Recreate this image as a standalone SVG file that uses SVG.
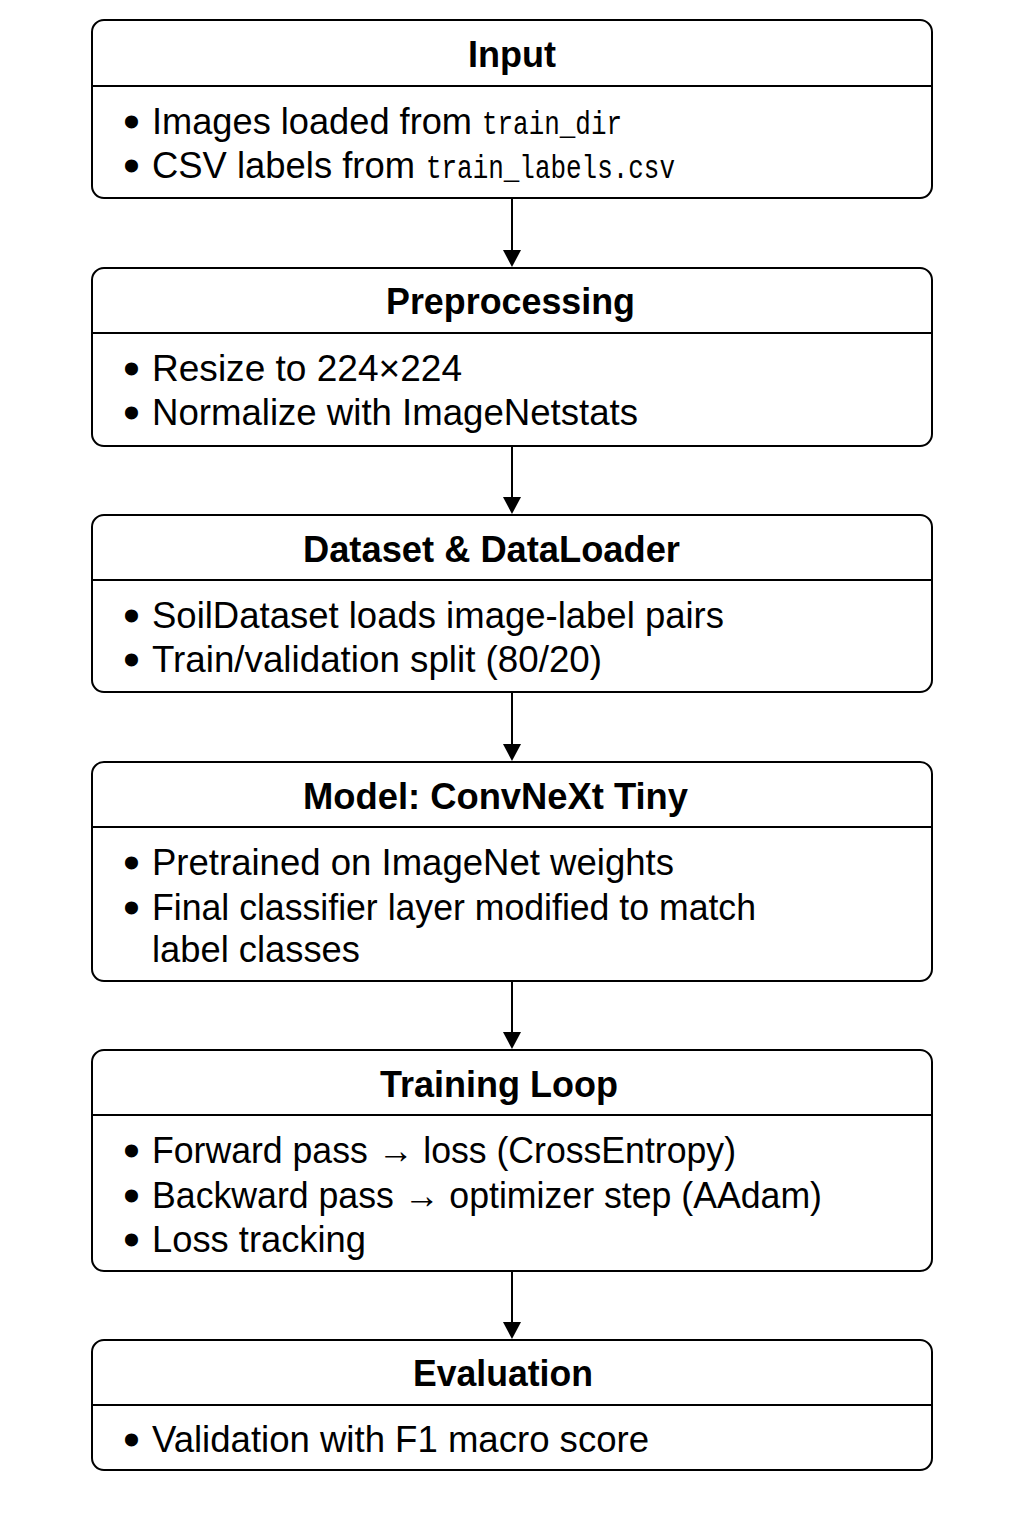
<svg xmlns="http://www.w3.org/2000/svg" width="1024" height="1536" viewBox="0 0 1024 1536">
<style>
.box{fill:#fff;stroke:#000;stroke-width:2}
.div{stroke:#000;stroke-width:1.8}
.t{font-family:"Liberation Sans",Arial,sans-serif;font-weight:bold;font-size:36px;fill:#000}
.b{font-family:"Liberation Sans",Arial,sans-serif;font-size:37px;fill:#000}
.d{font-family:"Liberation Sans",Arial,sans-serif;font-size:37px;fill:#000;stroke:#000;stroke-width:3}
.m{font-family:"Liberation Mono","DejaVu Sans Mono",monospace;font-size:33px;fill:#000}
.c{stroke:#000;stroke-width:2;fill:none}
.ah{fill:#000}
</style>
<defs>
<path id="head" d="M-9,-17 L9,-17 L0,0 Z"/>
</defs>
<rect width="1024" height="1536" fill="#fff"/>
<g id="connectors">
<line class="c" x1="512" y1="198" x2="512" y2="252"/>
<use href="#head" class="ah" x="512" y="267"/>
<line class="c" x1="512" y1="446" x2="512" y2="499"/>
<use href="#head" class="ah" x="512" y="514"/>
<line class="c" x1="512" y1="692" x2="512" y2="746"/>
<use href="#head" class="ah" x="512" y="761"/>
<line class="c" x1="512" y1="981" x2="512" y2="1034"/>
<use href="#head" class="ah" x="512" y="1049"/>
<line class="c" x1="512" y1="1271" x2="512" y2="1324"/>
<use href="#head" class="ah" x="512" y="1339"/>
</g>
<g id="input">
<rect class="box" x="92" y="20" width="840" height="178" rx="12"/>
<line class="div" x1="92" y1="86" x2="932" y2="86"/>
<text class="t" x="468" y="67" textLength="88" lengthAdjust="spacingAndGlyphs">Input</text>
<text class="d" x="125" y="134">•</text>
<text class="b" x="152" y="134" textLength="320" lengthAdjust="spacingAndGlyphs">Images loaded from</text>
<text class="m" x="482" y="134" textLength="140" lengthAdjust="spacingAndGlyphs">train_dir</text>
<text class="d" x="125" y="178">•</text>
<text class="b" x="152" y="178" textLength="263" lengthAdjust="spacingAndGlyphs">CSV labels from</text>
<text class="m" x="426" y="178" textLength="249" lengthAdjust="spacingAndGlyphs">train_labels.csv</text>
</g>
<g id="preprocessing">
<rect class="box" x="92" y="268" width="840" height="178" rx="12"/>
<line class="div" x1="92" y1="333" x2="932" y2="333"/>
<text class="t" x="386" y="314" textLength="249" lengthAdjust="spacingAndGlyphs">Preprocessing</text>
<text class="d" x="125" y="381">•</text>
<text class="b" x="152" y="381" textLength="310" lengthAdjust="spacingAndGlyphs">Resize to 224×224</text>
<text class="d" x="125" y="425">•</text>
<text class="b" x="152" y="425" textLength="486" lengthAdjust="spacingAndGlyphs">Normalize with ImageNetstats</text>
</g>
<g id="dataset">
<rect class="box" x="92" y="515" width="840" height="177" rx="12"/>
<line class="div" x1="92" y1="580" x2="932" y2="580"/>
<text class="t" x="303" y="562" textLength="377" lengthAdjust="spacingAndGlyphs">Dataset &amp; DataLoader</text>
<text class="d" x="125" y="628">•</text>
<text class="b" x="152" y="628" textLength="572" lengthAdjust="spacingAndGlyphs">SoilDataset loads image-label pairs</text>
<text class="d" x="125" y="672">•</text>
<text class="b" x="152" y="672" textLength="450" lengthAdjust="spacingAndGlyphs">Train/validation split (80/20)</text>
</g>
<g id="model">
<rect class="box" x="92" y="762" width="840" height="219" rx="12"/>
<line class="div" x1="92" y1="827" x2="932" y2="827"/>
<text class="t" x="303" y="809" textLength="385" lengthAdjust="spacingAndGlyphs">Model: ConvNeXt Tiny</text>
<text class="d" x="125" y="875">•</text>
<text class="b" x="152" y="875" textLength="522" lengthAdjust="spacingAndGlyphs">Pretrained on ImageNet weights</text>
<text class="d" x="125" y="920">•</text>
<text class="b" x="152" y="920" textLength="604" lengthAdjust="spacingAndGlyphs">Final classifier layer modified to match</text>
<text class="b" x="152" y="962" textLength="208" lengthAdjust="spacingAndGlyphs">label classes</text>
</g>
<g id="training">
<rect class="box" x="92" y="1050" width="840" height="221" rx="12"/>
<line class="div" x1="92" y1="1115" x2="932" y2="1115"/>
<text class="t" x="380" y="1097" textLength="238" lengthAdjust="spacingAndGlyphs">Training Loop</text>
<text class="d" x="125" y="1163">•</text>
<text class="b" x="152" y="1163" textLength="584" lengthAdjust="spacingAndGlyphs">Forward pass → loss (CrossEntropy)</text>
<text class="d" x="125" y="1208">•</text>
<text class="b" x="152" y="1208" textLength="670" lengthAdjust="spacingAndGlyphs">Backward pass → optimizer step (AAdam)</text>
<text class="d" x="125" y="1252">•</text>
<text class="b" x="152" y="1252" textLength="214" lengthAdjust="spacingAndGlyphs">Loss tracking</text>
</g>
<g id="evaluation">
<rect class="box" x="92" y="1340" width="840" height="130" rx="12"/>
<line class="div" x1="92" y1="1405" x2="932" y2="1405"/>
<text class="t" x="413" y="1386" textLength="180" lengthAdjust="spacingAndGlyphs">Evaluation</text>
<text class="d" x="125" y="1452">•</text>
<text class="b" x="152" y="1452" textLength="497" lengthAdjust="spacingAndGlyphs">Validation with F1 macro score</text>
</g>
</svg>
